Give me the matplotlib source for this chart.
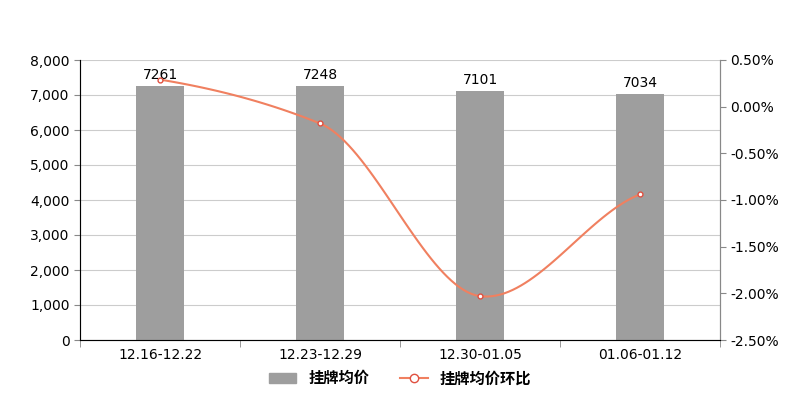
import matplotlib
matplotlib.use("Agg")
import matplotlib.pyplot as plt
import numpy as np
from matplotlib.ticker import FuncFormatter, FixedLocator

plt.rcParams['font.family'] = ['DejaVu Sans', 'Noto Sans CJK SC']

categories = ['12.16-12.22', '12.23-12.29', '12.30-01.05', '01.06-01.12']
prices = [7261, 7248, 7101, 7034]
changes = [0.29, -0.18, -2.03, -0.94]

fig = plt.figure(figsize=(8, 4), dpi=100)
ax = fig.add_axes([0.1, 0.15, 0.8, 0.70])
x = np.arange(len(categories))
ax.bar(x, prices, width=0.3, color='#9e9e9e', label='挂牌均价', zorder=2)
for xi, v in zip(x, prices):
    ax.text(xi, v + 120, str(v), ha='center', va='bottom', fontsize=10)
ax.set_ylim(0, 8000)
ax.set_yticks(range(0, 8001, 1000))
ax.yaxis.set_major_formatter(FuncFormatter(lambda v, p: f'{int(v):,}'))
ax.set_xlim(-0.5, 3.5)
ax.set_xticks(x)
ax.set_xticklabels(categories, fontsize=10)
ax.xaxis.set_minor_locator(FixedLocator([-0.5, 0.5, 1.5, 2.5, 3.5]))
ax.tick_params(axis='x', which='major', length=0, pad=6)
ax.tick_params(axis='x', which='minor', length=5, color='#888888')
ax.tick_params(axis='y', labelsize=10, length=4, color='#888888')
ax.grid(axis='y', color='#cccccc', linewidth=0.8, zorder=0)
for s in ['top']:
    ax.spines[s].set_visible(False)
for s in ['left', 'right', 'bottom']:
    ax.spines[s].set_color('#888888')

ax2 = ax.twinx()
ax2.set_ylim(-2.5, 0.5)
ax2.set_yticks(np.arange(-2.5, 0.51, 0.5))
ax2.yaxis.set_major_formatter(FuncFormatter(lambda v, p: f'{v:.2f}%'))
ax2.tick_params(axis='y', labelsize=10, length=4, color='#888888')
ax2.spines['top'].set_visible(False)
ax2.spines['right'].set_color('#888888')

# smooth curve (cubic Hermite, Catmull-Rom tangents)
xs = x.astype(float); ys = np.array(changes)
m = np.gradient(ys, xs) * 0.6
cx, cy = [], []
for i in range(len(xs) - 1):
    t = np.linspace(0, 1, 40)
    h00 = 2*t**3 - 3*t**2 + 1; h10 = t**3 - 2*t**2 + t
    h01 = -2*t**3 + 3*t**2; h11 = t**3 - t**2
    cx.extend(xs[i] + t); cy.extend(h00*ys[i] + h10*m[i] + h01*ys[i+1] + h11*m[i+1])
ax2.plot(cx, cy, color='#f08060', linewidth=1.5, zorder=3)
ax2.plot(xs, ys, 'o', markersize=3.5, markerfacecolor='white', markeredgecolor='#e05040', zorder=4)
from matplotlib.lines import Line2D
from matplotlib.patches import Patch
handles = [Patch(color='#9e9e9e', label='挂牌均价'),
           Line2D([0], [0], color='#f08060', marker='o', markerfacecolor='white',
                  markeredgecolor='#e05040', label='挂牌均价环比')]
fig.legend(handles=handles, loc='lower center', bbox_to_anchor=(0.5, 0.0), ncol=2, frameon=False,
           prop={'family': 'Noto Sans CJK SC', 'weight': 'bold', 'size': 11}, handlelength=1.8)
fig.savefig('out.png')
